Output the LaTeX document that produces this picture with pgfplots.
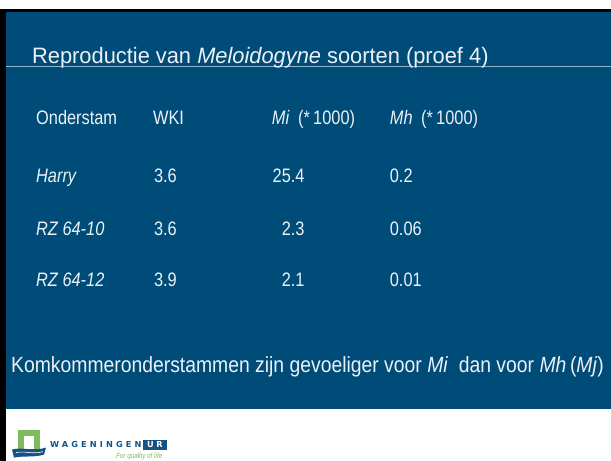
\documentclass[border=0pt]{standalone}
\usepackage{fontspec}
\setmainfont{Liberation Sans}[FakeStretch=0.84]
\newfontfamily\titlefont{Liberation Sans}[FakeStretch=0.98]
\newfontfamily\bottomfont{Liberation Sans}[FakeStretch=0.88]
\newfontfamily\logofont{DejaVu Sans}
\usepackage{pgfplots}
\usepackage{pgfplotstable}
\pgfplotsset{compat=1.18}
\definecolor{wurblue}{RGB}{0,76,121}
\definecolor{rulecol}{RGB}{150,180,200}
\definecolor{txt}{RGB}{236,241,246}
\definecolor{wgreen}{RGB}{128,188,92}
\definecolor{wblue}{RGB}{22,82,132}
\pgfplotstableread[col sep=comma]{
name,y,wki,mi,mh
Harry,183,3.6,25.4,0.2
RZ 64-10,236,3.6,2.3,0.06
RZ 64-12,287,3.9,2.1,0.01
}\datatable
\begin{document}
\begin{tikzpicture}
\begin{axis}[
  width=611pt, height=461pt, scale only axis,
  xmin=0, xmax=611, ymin=0, ymax=461, y dir=reverse,
  axis lines=none, clip=false,
  point meta=explicit symbolic,
  nodes near coords,
  every node near coord/.append style={text=txt, font=\fontsize{19.5}{22}\selectfont, inner sep=0pt, anchor=base west},
]
\fill[white] (axis cs:0,0) rectangle (axis cs:611,461);
\fill[black] (axis cs:0,9) rectangle (axis cs:611,12);
\fill[black] (axis cs:0,9) rectangle (axis cs:6,461);
\fill[wurblue] (axis cs:6,12) rectangle (axis cs:611,409);
\draw[rulecol, line width=1pt] (axis cs:6,66.5) -- (axis cs:611,66.5);
% title
\node[anchor=base west, inner sep=0pt, text=txt, font=\titlefont\fontsize{22.3}{26}\selectfont] at (axis cs:32,64) {Reproductie van \textit{Meloidogyne} soorten (proef 4)};
% header
\begin{scope}[every node/.style={anchor=base west, inner sep=0pt, text=txt, font=\fontsize{19.5}{22}\selectfont}]
\node at (axis cs:36,125) {Onderstam};
\node at (axis cs:153,125) {WKI};
\node at (axis cs:272,125) {\textit{Mi}\hspace{4pt} (*\,1000)};
\node at (axis cs:390,125) {\textit{Mh}\hspace{4pt} (*\,1000)};
\end{scope}
% rows
\addplot[draw=none, mark=none, every node near coord/.append style={font=\fontsize{19.5}{22}\selectfont\itshape}] table[x expr=36, y=y, meta=name] {\datatable};
\addplot[draw=none, mark=none] table[x expr=154, y=y, meta=wki] {\datatable};
\addplot[draw=none, mark=none, every node near coord/.append style={anchor=base east}] table[x expr=305, y=y, meta=mi] {\datatable};
\addplot[draw=none, mark=none] table[x expr=390, y=y, meta=mh] {\datatable};
% bottom line
\node[anchor=base west, inner sep=0pt, text=txt, font=\bottomfont\fontsize{22}{25}\selectfont] at (axis cs:11,373) {Komkommeronderstammen zijn gevoeliger voor \textit{Mi}\ \ dan voor \textit{Mh}\,(\textit{Mj})};
% logo
\fill[wgreen] (axis cs:18,430) rectangle (axis cs:40,451);
\fill[white] (axis cs:24,436) rectangle (axis cs:34,451);
\fill[wblue] (axis cs:12,450) .. controls (axis cs:20,447) and (axis cs:34,452) .. (axis cs:46,448) -- (axis cs:44,455) .. controls (axis cs:34,458) and (axis cs:22,456) .. (axis cs:14,458) -- cycle;
\draw[white, line width=0.6pt] (axis cs:16,453) .. controls (axis cs:24,451) and (axis cs:34,455) .. (axis cs:43,452);
\node[anchor=base west, inner sep=0pt, text=wblue, font=\logofont\bfseries\fontsize{8.2}{9}\selectfont\addfontfeature{LetterSpace=38}] at (axis cs:50,448) {WAGENINGEN};
\fill[wblue] (axis cs:143,440) rectangle (axis cs:167,450);
\node[anchor=base, inner sep=0pt, text=white, font=\logofont\bfseries\fontsize{8.2}{9}\selectfont\addfontfeature{LetterSpace=30}] at (axis cs:155,448) {UR};
\node[anchor=base west, inner sep=0pt, text=wgreen, font=\fontsize{7.5}{8}\selectfont\itshape] at (axis cs:116,459) {For quality of life};
\end{axis}
\end{tikzpicture}
\end{document}
